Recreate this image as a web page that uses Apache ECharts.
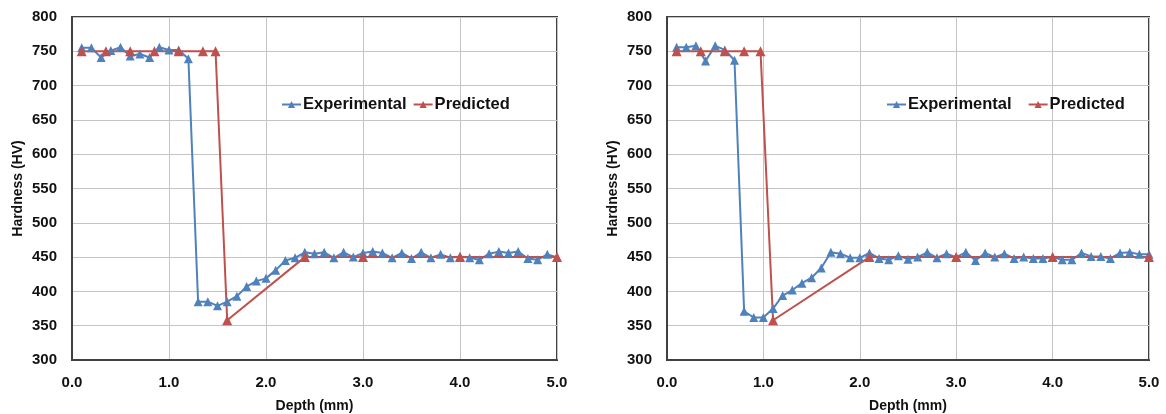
<!DOCTYPE html>
<html>
<head>
<meta charset="utf-8">
<script src="https://cdn.jsdelivr.net/npm/echarts@6/dist/echarts.min.js"></script>
<style>
html,body{margin:0;padding:0;background:#fff;}
#c{width:1166px;height:414px;}
</style>
</head>
<body>
<div id="c"></div>
<script>
// ---- Data ----
const depthExp = [0.1,0.2,0.3,0.4,0.5,0.6,0.7,0.8,0.9,1.0,1.1,1.2,1.3,1.4,1.5,1.6,1.7,1.8,1.9,2.0,2.1,2.2,2.3,2.4,2.5,2.6,2.7,2.8,2.9,3.0,3.1,3.2,3.3,3.4,3.5,3.6,3.7,3.8,3.9,4.0,4.1,4.2,4.3,4.4,4.5,4.6,4.7,4.8,4.9,5.0];
const leftExperimental = [755,755,741,751,756,743,746,741,756,752,752,739,385,385,379,385,393,407,415,419,431,445,449,457,455,457,449,457,450,456,458,456,449,456,448,457,449,454,449,451,449,446,455,458,456,458,448,446,454,450];
const leftPredDepth = [0.1,0.35,0.6,0.85,1.1,1.35,1.48,1.6,2.4,3.0,4.0,5.0];
const leftPredicted = [750,750,750,750,750,750,750,358,450,450,450,450];
const rightExperimental = [756,756,758,736,758,752,737,371,362,362,375,394,402,412,420,434,457,455,449,449,456,448,446,452,447,450,457,449,455,450,457,445,456,450,455,448,450,448,448,450,446,446,456,451,451,448,456,457,454,454];
const rightPredDepth = [0.1,0.35,0.6,0.8,0.97,1.1,2.1,3.0,4.0,5.0];
const rightPredicted = [750,750,750,750,750,358,450,450,450,450];
const xTicks = ['0.0','1.0','2.0','3.0','4.0','5.0'];
const seriesNames = ['Experimental','Predicted'];
const xTitle = 'Depth (mm)';
const yTitle = 'Hardness (HV)';

const BLUE = '#4f81bd', RED = '#c0504d';
const FONT = "'Liberation Sans', Arial, sans-serif";
const pair = (xs, ys) => xs.map((x, i) => [x, ys[i]]);

const grids = [
  {left: 72, right: 609, top: 17, bottom: 54},
  {left: 667, right: 17, top: 17, bottom: 54}
];
const legendLeft = [276, 881];
const legendGap = [6, 16];

const option = {
  animation: false,
  backgroundColor: '#fff',
  grid: grids.map(g => Object.assign({show: true, borderColor: '#404040', borderWidth: 2, backgroundColor: 'transparent',
    containLabel: false, outerBoundsMode: 'none'}, g)),
  legend: legendLeft.map((l, i) => ({
    data: seriesNames.map(n => n + (i ? ' ' : '')),
    left: l, top: 91,
    itemWidth: 19, itemHeight: 9, itemGap: legendGap[i],
    textStyle: {fontFamily: FONT, fontWeight: 'bold', fontSize: 16.5, color: '#111', padding: [0, 0, 0, -3]},
    formatter: n => n.trim()
  })),
  xAxis: [0, 1].map(i => ({
    gridIndex: i, type: 'value', min: 0, max: 5, interval: 1,
    name: xTitle, nameLocation: 'middle', nameGap: 39,
    nameTextStyle: {fontFamily: FONT, fontWeight: 'bold', fontSize: 14, color: '#111'},
    axisLine: {show: true, lineStyle: {color: '#404040', width: 2}},
    axisTick: {show: false},
    axisLabel: {fontFamily: FONT, fontWeight: 'bold', fontSize: 15, color: '#111', margin: 15,
      formatter: v => xTicks[Math.round(v)]},
    splitLine: {show: true, lineStyle: {color: '#c4c4c4', width: 1}}
  })),
  yAxis: [0, 1].map(i => ({
    gridIndex: i, type: 'value', min: 300, max: 800, interval: 50,
    name: yTitle, nameLocation: 'middle', nameGap: 47,
    nameTextStyle: {fontFamily: FONT, fontWeight: 'bold', fontSize: 14, color: '#111'},
    axisLine: {show: true, lineStyle: {color: '#404040', width: 2}},
    axisTick: {show: false},
    axisLabel: {fontFamily: FONT, fontWeight: 'bold', fontSize: 15, color: '#111', margin: 15},
    splitLine: {show: true, lineStyle: {color: '#c4c4c4', width: 1}}
  })),
  series: [
    {name: 'Experimental', type: 'line', xAxisIndex: 0, yAxisIndex: 0, data: pair(depthExp, leftExperimental),
      symbol: 'triangle', symbolSize: 9, color: BLUE, lineStyle: {width: 2, color: BLUE}, itemStyle: {color: BLUE}},
    {name: 'Predicted', type: 'line', xAxisIndex: 0, yAxisIndex: 0, data: pair(leftPredDepth, leftPredicted),
      symbol: 'triangle', symbolSize: 10, color: RED, lineStyle: {width: 2, color: RED}, itemStyle: {color: RED}},
    {name: 'Experimental ', type: 'line', xAxisIndex: 1, yAxisIndex: 1, data: pair(depthExp, rightExperimental),
      symbol: 'triangle', symbolSize: 9, color: BLUE, lineStyle: {width: 2, color: BLUE}, itemStyle: {color: BLUE}},
    {name: 'Predicted ', type: 'line', xAxisIndex: 1, yAxisIndex: 1, data: pair(rightPredDepth, rightPredicted),
      symbol: 'triangle', symbolSize: 10, color: RED, lineStyle: {width: 2, color: RED}, itemStyle: {color: RED}}
  ]
};
const chart = echarts.init(document.getElementById('c'), null, {renderer: 'canvas'});
chart.setOption(option);
</script>
</body>
</html>
